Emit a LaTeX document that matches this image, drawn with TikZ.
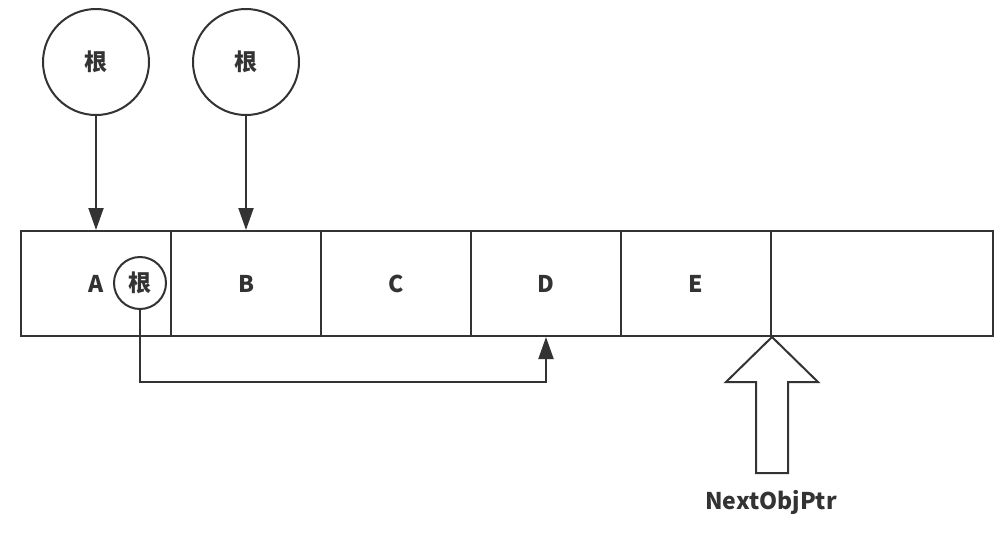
\documentclass[tikz,border=0pt]{standalone}
\usepackage{fontspec}
\setmainfont{Noto Sans CJK SC}
\usetikzlibrary{arrows.meta}
\definecolor{ink}{HTML}{333333}
\begin{document}
\begin{tikzpicture}[x=1pt,y=-1pt,
  txt/.style={text=ink,font=\bfseries\fontsize{23}{27}\selectfont},
  cell/.style={draw=ink,line width=2pt,minimum width=150pt,minimum height=105pt,inner sep=0pt,txt},
  rootbig/.style={circle,draw=ink,line width=2pt,minimum size=106pt,inner sep=0pt,fill=white,txt},
  rootsmall/.style={circle,draw=ink,line width=2pt,minimum size=52pt,inner sep=0pt,fill=white,txt},
  arr/.style={draw=ink,line width=2pt,-{Triangle[length=22pt,width=15pt]}}]
\useasboundingbox (0,0) rectangle (1005,542);
\node[cell] (A) at (96,283.5) {};
\node[txt] (Alab) at (96,284) {A};
\node[cell] (B) at (246,283.5) {B};
\node[cell] (C) at (396,283.5) {C};
\node[cell] (D) at (546,283.5) {D};
\node[cell] (E) at (696,283.5) {E};
\node[cell,minimum width=222pt] (F) at (882,283.5) {};
\node[rootbig] (r1) at (96,62) {根};
\node[rootbig] (r2) at (246,62) {根};
\node[rootsmall] (r3) at (140,283) {根};
\coordinate (turn) at (546,382);
\draw[arr] (r1) -- (A.north);
\draw[arr] (r2) -- (B.north);
\draw[arr] (r3.south) |- (turn) -- (D.south);
\draw[draw=ink,line width=2pt,line join=miter] (E.south east) -- ++(46,45) -- ++(-30,0) -- ++(0,91) -- ++(-32,0) -- ++(0,-91) -- ++(-30,0) -- cycle;
\node[txt] (lbl) at (771,502) {NextObjPtr};
\end{tikzpicture}
\end{document}
